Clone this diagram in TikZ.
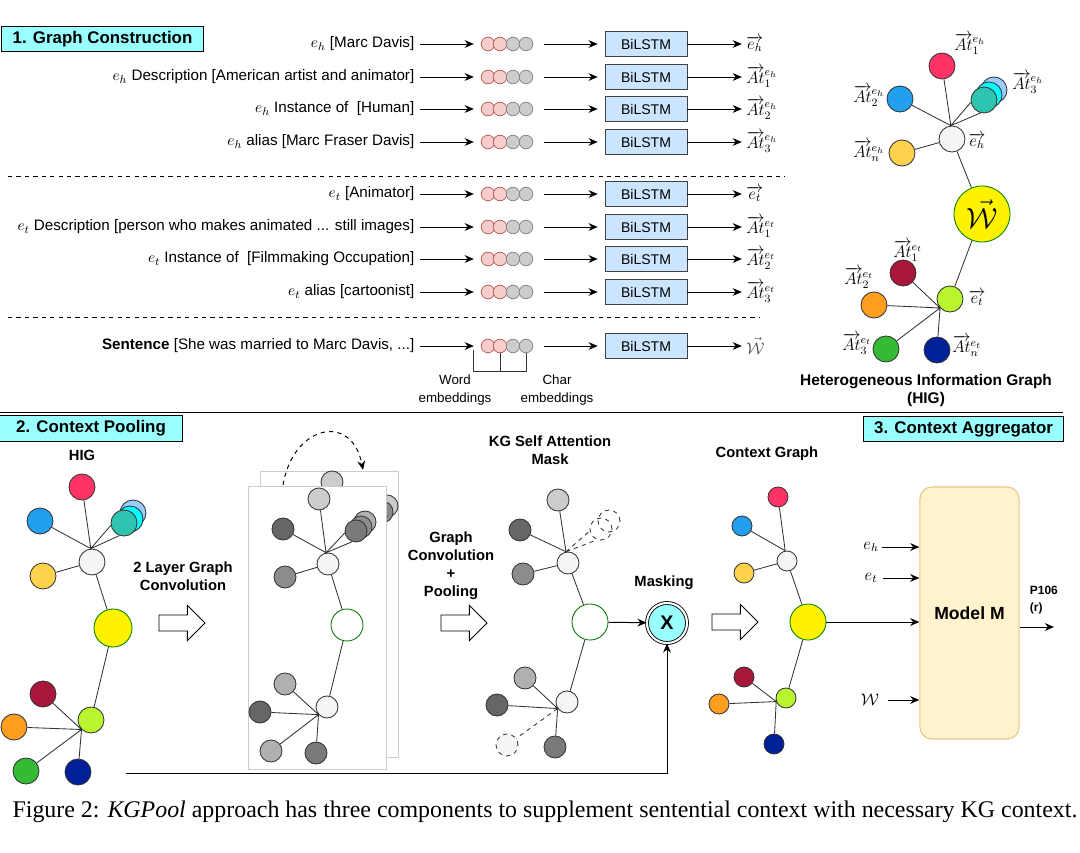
\documentclass[tikz,border=0pt]{standalone}
\usepackage{fontspec}
\setmainfont{Liberation Sans}
\newfontfamily\capfont{Liberation Serif}
\usepackage{amsmath}
\usetikzlibrary{arrows.meta,shapes.arrows}
\definecolor{titlec}{HTML}{99FFFF}
\definecolor{lstmc}{HTML}{CCE5FF}
\definecolor{wordf}{HTML}{F8CECC}
\definecolor{wordd}{HTML}{B85450}
\definecolor{cRe}{HTML}{FF3366}
\definecolor{cBl}{HTML}{22A0EE}
\definecolor{cTe}{HTML}{2EC4B0}
\definecolor{cCy}{HTML}{00FFFF}
\definecolor{cLB}{HTML}{99CCFF}
\definecolor{cYe}{HTML}{FFD24D}
\definecolor{cWh}{HTML}{F5F5F5}
\definecolor{cLi}{HTML}{B8F52E}
\definecolor{cDr}{HTML}{A8163C}
\definecolor{cOr}{HTML}{FF9E1F}
\definecolor{cGr}{HTML}{33BB33}
\definecolor{cNv}{HTML}{002099}
\definecolor{mfill}{HTML}{FFF2CC}
\definecolor{mdraw}{HTML}{E6C88A}
\definecolor{gLt}{HTML}{CCCCCC}
\definecolor{gLt2}{HTML}{B0B0B0}
\definecolor{gMd}{HTML}{8C8C8C}
\definecolor{gMd2}{HTML}{7A7A7A}
\definecolor{gDk}{HTML}{666666}
\begin{document}
\begin{tikzpicture}[
			x=0.025cm, y=-0.025cm,
			font=\fontsize{10}{12}\selectfont,
			arr/.style={-{Stealth[length=6.5pt,width=5.5pt]}, line width=0.7pt},
			link/.style={draw=black!80, line width=0.6pt},
			sect/.style={draw, line width=0.7pt, fill=titlec, font=\bfseries\fontsize{12}{14}\selectfont, minimum height=0.64cm, inner sep=1pt},
			lstm/.style={draw=black!75, fill=lstmc, minimum width=2.05cm, minimum height=0.63cm, inner sep=0pt},
			emb/.style={circle, minimum size=0.34cm, inner sep=0pt, line width=0.5pt},
			wemb/.style={emb, draw=wordd, fill=wordf},
			cemb/.style={emb, draw=gray, fill=gray!40},
			rowlab/.style={anchor=east, inner sep=1pt, font=\fontsize{10.8}{13}\selectfont},
			vlab/.style={font=\fontsize{12}{14}\selectfont, inner sep=0pt},
			nd/.style={circle, draw=black!80, line width=0.6pt, minimum size=0.65cm, inner sep=0pt},
			snd/.style={nd, minimum size=0.55cm},
			tnd/.style={nd, minimum size=0.5cm},
			hollow/.style={circle, draw=green!45!black, fill=white, line width=0.6pt, inner sep=0pt},
			bigw/.style={circle, draw=green!50!black, fill=yellow, line width=0.6pt, inner sep=0pt},
			blk/.style={single arrow, draw, line width=0.6pt, fill=white, inner sep=0.19cm, single arrow head extend=0.24cm, minimum height=1.15cm},
			bold/.style={font=\bfseries\fontsize{10.5}{12.8}\selectfont, align=center},
			page/.style={draw=gray!40, fill=white, line width=0.6pt}
			]
			\useasboundingbox (0,0) rectangle (1080,853);

			\node[sect, minimum width=5.03cm] (t1) at (102.5,39) {1. Graph Construction};
			\node[sect, minimum width=4.55cm] (t2) at (91,428.5) {2. Context Pooling};
			\node[sect, minimum width=4.98cm] (t3) at (963.5,429) {3. Context Aggregator};

			\foreach \i/\y/\txt/\out in {
				1/44/{$e_h$ [Marc Davis]}/{$\overrightarrow{e_h}$},
				2/77/{$e_h$ Description [American artist and animator]}/{$\overrightarrow{At}\vphantom{At}^{e_h}_1$},
				3/109/{$e_h$ Instance of\ \ [Human]}/{$\overrightarrow{At}\vphantom{At}^{e_h}_2$},
				4/142/{$e_h$ alias [Marc Fraser Davis]}/{$\overrightarrow{At}\vphantom{At}^{e_h}_3$},
				5/194/{$e_t$ [Animator]}/{$\overrightarrow{e_t}$},
				6/227/{$e_t$ Description [person who makes animated ... still images]}/{$\overrightarrow{At}\vphantom{At}^{e_t}_1$},
				7/259/{$e_t$ Instance of\ \ [Filmmaking Occupation]}/{$\overrightarrow{At}\vphantom{At}^{e_t}_2$},
				8/292/{$e_t$ alias [cartoonist]}/{$\overrightarrow{At}\vphantom{At}^{e_t}_3$},
				9/346/{\textbf{Sentence} [She was married to Marc Davis, ...]}/{\textcolor{black!70}{$\vec{\mathcal{W}}$}}}
			{
				\node[rowlab] (l\i) at (416,\y) {\txt};
				\node[wemb] (c\i-1) at (488,\y) {};
				\node[wemb] (c\i-2) at (500,\y) {};
				\node[cemb] (c\i-3) at (513,\y) {};
				\node[cemb] (c\i-4) at (526,\y) {};
				\node[lstm] (b\i) at (646,\y) {BiLSTM};
				\node[vlab, anchor=west] (o\i) at (746,\y) {\out};
				\draw[arr, shorten <=3pt, shorten >=5pt] (l\i) -- (c\i-1);
				\draw[arr, shorten <=8pt, shorten >=5pt] (c\i-4) -- (b\i);
				\draw[arr, shorten >=3pt] (b\i) -- (o\i);
			}
			\draw[dashed, line width=0.6pt] (8,176) -- (785,176);
			\draw[dashed, line width=0.6pt] (8,317) -- (760,317);
			\draw[line width=0.7pt] (0,412) -- (1063,412);

			\draw[link] (473,350) -- (473,371) -- (c9-4.south |- 0,371) -- (c9-4.south);
			\draw[link] (c9-2.south) -- (c9-2.south |- 0,371);
			\node[font=\fontsize{9.5}{12.8}\selectfont, align=center] (we) at (455,390) {Word\\embeddings};
			\node[font=\fontsize{9.5}{12.8}\selectfont, align=center] (ce) at (557,390) {Char\\embeddings};

			\node[bigw, minimum size=1.4cm] (W) at (982,214) {\fontsize{20}{22}\selectfont$\vec{\mathcal{W}}$};
			\node[nd, fill=cLB] (h3c) at (994,90) {};
			\node[nd, fill=cCy] (h3b) at (989,95) {};
			\node[nd, fill=cTe] (h3) at (984,100) {};
			\node[nd, fill=cWh] (eh) at (952,139) {};
			\node[nd, fill=cRe] (h1) at (942,66) {};
			\node[nd, fill=cBl] (h2) at (900,99) {};
			\node[nd, fill=cYe] (hn) at (902,153) {};
			\node[nd, fill=cLi] (et) at (950,299) {};
			\node[nd, fill=cDr] (t1) at (903,273) {};
			\node[nd, fill=cOr] (t2) at (874,305) {};
			\node[nd, fill=cGr] (t3) at (886,349) {};
			\node[nd, fill=cNv] (tn) at (937,350) {};
			\draw[link] (eh.95) -- (h1) (eh.95) -- (h2) (eh.95) -- (h3.190) (eh.95) -- (h3.255)
				(eh) -- (hn) (eh) -- (W) (W) -- (et)
				(et.222) -- (t1) (et.222) -- (t2) (et.222) -- (t3) (et.222) -- (tn);
			\node[vlab] (lh1) at (970,44) {$\overrightarrow{At}\vphantom{At}^{e_h}_1$};
			\node[vlab] (lh2) at (869,96) {$\overrightarrow{At}\vphantom{At}^{e_h}_2$};
			\node[vlab] (lh3) at (1028,83) {$\overrightarrow{At}\vphantom{At}^{e_h}_3$};
			\node[vlab] (lhn) at (869,151) {$\overrightarrow{At}\vphantom{At}^{e_h}_n$};
			\node[vlab] (leh) at (977,141) {$\overrightarrow{e_h}$};
			\node[vlab] (lt1) at (908,251) {$\overrightarrow{At}\vphantom{At}^{e_t}_1$};
			\node[vlab] (lt2) at (859,278) {$\overrightarrow{At}\vphantom{At}^{e_t}_2$};
			\node[vlab] (lt3) at (857,344) {$\overrightarrow{At}\vphantom{At}^{e_t}_3$};
			\node[vlab] (ltn) at (967,346) {$\overrightarrow{At}\vphantom{At}^{e_t}_n$};
			\node[vlab] (let) at (977,298) {$\overrightarrow{e_t}$};
			\node[bold, font=\bfseries\fontsize{11}{12.8}\selectfont] (hig) at (926,391) {Heterogeneous Information Graph\\(HIG)};

			\node[bold] (lhig) at (82,455) {HIG};
			\node[bigw, minimum size=0.95cm] (gW) at (113,628) {};
			\node[nd, fill=cLB] (g3c) at (133,513) {};
			\node[nd, fill=cCy] (g3b) at (130,519) {};
			\node[nd, fill=cTe] (g3) at (124,523) {};
			\node[nd, fill=cWh] (ge) at (92,562) {};
			\node[nd, fill=cRe] (g1) at (82,487) {};
			\node[nd, fill=cBl] (g2) at (40,521) {};
			\node[nd, fill=cYe] (gn) at (43,576) {};
			\node[nd, fill=cLi] (gt) at (91,720) {};
			\node[nd, fill=cDr] (gt1) at (43,694) {};
			\node[nd, fill=cOr] (gt2) at (14,727) {};
			\node[nd, fill=cGr] (gt3) at (26,771) {};
			\node[nd, fill=cNv] (gtn) at (78,772) {};
			\draw[link] (ge.95) -- (g1) (ge.95) -- (g2) (ge.95) -- (g3.190) (ge.95) -- (g3.250)
				(ge) -- (gn) (ge) -- (gW) (gW) -- (gt)
				(gt.225) -- (gt1) (gt.225) -- (gt2) (gt.225) -- (gt3) (gt.225) -- (gtn);

			\node[bold] (l2gc) at (183,576) {2 Layer Graph\\Convolution};
			\node[blk] (a1) at (178,623) {};

			\node[page, minimum width=3.43cm, minimum height=7.13cm] (pgb) at (329.5,614.5) {};
			\node[hollow, minimum size=0.8cm] (bW) at (366,616) {};
			\node[snd, fill=gLt] (bs3) at (387,506) {};
			\node[snd, fill=gMd] (bs2) at (382,512) {};
			\node[snd, fill=gMd2] (bs1) at (376,516) {};
			\node[snd, fill=cWh] (be) at (343,551) {};
			\node[snd, fill=gLt] (b1) at (332,482) {};
			\draw[link] (be.100) -- (b1) (be.100) -- (bs1.195) (be) -- (bW);
			\node[page, minimum width=3.45cm, minimum height=7.075cm] (pgf) at (317,627.5) {};
			\coordinate (cs) at (283,485);
			\coordinate (cend) at (363,470);
			\draw[arr, dashed] (cs) .. controls (293,425) and (352,412) .. (cend);
			\node[hollow, minimum size=0.8cm] (fW) at (347,625) {};
			\node[snd, fill=gLt2] (fs3) at (365,522) {};
			\node[snd, fill=gMd] (fs2) at (361,527) {};
			\node[snd, fill=gMd2] (fs1) at (356,531) {};
			\node[snd, fill=cWh] (fe) at (328,564) {};
			\node[snd, fill=gLt] (f1) at (319,499) {};
			\node[snd, fill=gDk] (f2) at (283,529) {};
			\node[snd, fill=gMd] (fn) at (285,577) {};
			\node[snd, fill=cWh] (ft) at (327,707) {};
			\node[snd, fill=gLt2] (ft1) at (285,684) {};
			\node[snd, fill=gDk] (ft2) at (260,712) {};
			\node[snd, fill=gLt2] (ft3) at (271,751) {};
			\node[snd, fill=gMd2] (ftn) at (316,753) {};
			\draw[link] (fe.100) -- (f1) (fe.100) -- (f2) (fe.100) -- (fs1.190) (fe.100) -- (fs1.250)
				(fe) -- (fn) (fe) -- (fW) (fW) -- (ft)
				(ft.222) -- (ft1) (ft.222) -- (ft2) (ft.222) -- (ft3) (ft.222) -- (ftn);

			\node[bold] (lgcp) at (451,566) {Graph\\Convolution\\+\\Pooling};
			\node[blk] (a2) at (460,623) {};

			\node[bold] (lkg) at (550,450) {KG Self Attention\\Mask};
			\node[hollow, minimum size=0.9cm] (kW) at (590,622) {};
			\node[snd, dashed] (ks2) at (609,521) {};
			\node[snd, dashed] (ks1) at (601,529) {};
			\node[snd, fill=cWh] (ke) at (568,563) {};
			\node[snd, fill=gLt] (k1) at (558,500) {};
			\node[snd, fill=gDk] (k2) at (520,530) {};
			\node[snd, fill=gMd] (kn) at (523,574) {};
			\node[snd, fill=cWh] (kt) at (567,702) {};
			\node[snd, fill=gLt2] (kt1) at (525,678) {};
			\node[snd, fill=gDk] (kt2) at (497,705) {};
			\node[snd, fill=cWh, dashed] (kt3) at (507,745) {};
			\node[snd, fill=gMd2] (ktn) at (555,747) {};
			\draw[link] (ke.100) -- (k1) (ke.100) -- (k2) (ke) -- (kn) (ke) -- (kW) (kW) -- (kt)
				(kt.215) -- (kt1) (kt.215) -- (kt2) (kt.215) -- (ktn);
			\draw[link, dashed] (ke.100) -- (ks1.190) (ke.100) -- (ks1.250) (kt.215) -- (kt3);

			\node[bold] (lmask) at (664,583) {Masking};
			\node[circle, draw, line width=0.6pt, double, double distance=1.5pt, fill=titlec, minimum size=1.0cm, inner sep=0pt, font=\bfseries\fontsize{14}{16}\selectfont] (mask) at (667,623) {X};
			\draw[arr] (kW) -- (mask);
			\coordinate (fb) at (126,773);
			\draw[arr] (fb) -| (mask);

			\node[bold] (lcg) at (767,454) {Context Graph};
			\node[blk] (a3) at (731,622) {};
			\node[bigw, minimum size=0.9cm] (xW) at (808,622) {};
			\node[tnd, fill=cWh] (xe) at (787,561) {};
			\node[tnd, fill=cRe] (x1) at (778,497) {};
			\node[tnd, fill=cBl] (x2) at (742,526) {};
			\node[tnd, fill=cYe] (xn) at (744,573) {};
			\node[tnd, fill=cLi] (xt) at (786,698) {};
			\node[tnd, fill=cDr] (xt1) at (744,677) {};
			\node[tnd, fill=cOr] (xt2) at (719,704) {};
			\node[tnd, fill=cNv] (xtn) at (774,744) {};
			\draw[link] (xe.100) -- (x1) (xe.100) -- (x2) (xe) -- (xn) (xe) -- (xW) (xW) -- (xt)
				(xt.200) -- (xt1) (xt.200) -- (xt2) (xt.200) -- (xtn);

			\node[draw=mdraw, fill=mfill, line width=0.8pt, rounded corners=0.3cm, minimum width=2.48cm, minimum height=6.3cm, font=\bfseries\fontsize{12.5}{15}\selectfont] (model) at (969.5,613) {Model M};
			\node[vlab] (ieh) at (871,547) {$e_h$};
			\node[vlab] (iet) at (871,578) {$e_t$};
			\node[vlab] (iw) at (870,700) {$\mathcal{W}$};
			\draw[arr, shorten <=2pt] (ieh) -- (ieh -| model.west);
			\draw[arr, shorten <=4pt] (iet) -- (iet -| model.west);
			\draw[arr, shorten <=6pt] (iw) -- (iw -| model.west);
			\draw[arr] (xW) -- (xW -| model.west);
			\coordinate (rout) at (1054,627);
			\draw[arr] (model.east |- rout) -- (rout);
			\node[font=\bfseries\fontsize{8.5}{12}\selectfont, align=left, anchor=west] (rel) at (1025,600) {P106\\(r)};

			\node[font=\capfont\fontsize{17}{20}\selectfont] (cap) at (545,812) {Figure 2: \textit{KGPool} approach has three components to supplement sentential context with necessary KG context.};
		\end{tikzpicture}
\end{document}
